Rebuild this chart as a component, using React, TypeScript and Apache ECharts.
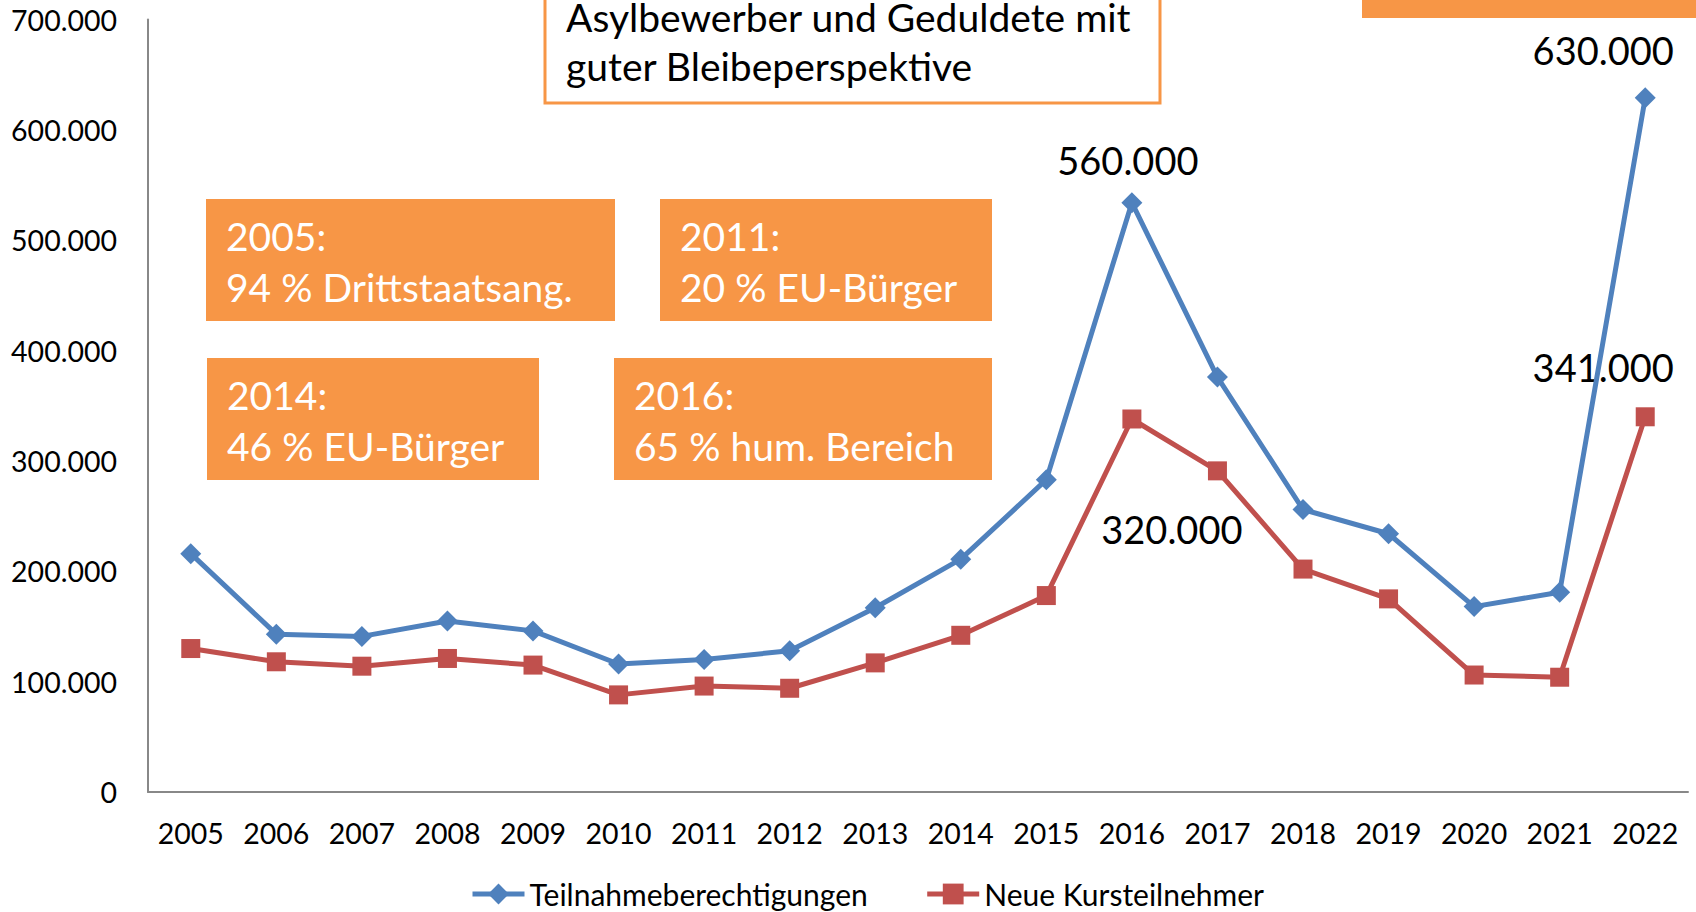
import React, { useEffect, useRef } from "react";
import * as echarts from "echarts";

const years = ["2005","2006","2007","2008","2009","2010","2011","2012","2013","2014","2015","2016","2017","2018","2019","2020","2021","2022"];
const teilnahme = [216000,143000,141000,155000,146000,116000,120000,128000,167000,211000,283000,534000,376000,256000,234000,168000,181000,629000];
const kurs = [130000,118000,114000,121000,115000,88000,96000,94000,117000,142000,178000,338000,291000,202000,175000,106000,104000,340000];
const seriesNames = ["Teilnahmeberechtigungen","Neue Kursteilnehmer"];
const blueLabels: Record<number,{text:string;off:[number,number]}> = { 11:{text:"560.000",off:[-4,-43]}, 17:{text:"630.000",off:[-42,-48]} };
const redLabels: Record<number,{text:string;off:[number,number]}> = { 11:{text:"320.000",off:[40,110]}, 17:{text:"341.000",off:[-42,-50]} };
const titleLines = ["Asylbewerber und Geduldete mit", "guter Bleibeperspektive"];
const boxes = [
  { l1: "2005:", l2: "94 % Drittstaatsang.", x: 206, y: 199, w: 409, h: 122 },
  { l1: "2011:", l2: "20 % EU-Bürger", x: 660, y: 199, w: 332, h: 122 },
  { l1: "2014:", l2: "46 % EU-Bürger", x: 207, y: 358, w: 332, h: 122 },
  { l1: "2016:", l2: "65 % hum. Bereich", x: 614, y: 358, w: 378, h: 122 },
];

const FONT = "Lato";
const BLUE = "#4F81BD";
const RED = "#C0504D";
const ORANGE = "#F79646";

function fmt(v: number) {
  if (v === 0) return "0";
  const s = String(Math.round(v));
  return s.replace(/\B(?=(\d{3})+(?!\d))/g, ".");
}

function withLabels(vals: number[], labels: Record<number,{text:string;off:[number,number]}>) {
  return vals.map((v, i) => {
    const l = labels[i];
    if (!l) return v;
    return {
      value: v,
      label: {
        show: true,
        position: "inside",
        offset: l.off,
        formatter: l.text,
        color: "#000",
        fontFamily: FONT,
        fontSize: 38,
      },
    };
  });
}

export default function App() {
  const ref = useRef<HTMLDivElement>(null);
  useEffect(() => {
    document.body.style.margin = "0";
    const chart = echarts.init(ref.current!, null, { renderer: "svg" });
    const graphics: any[] = [];
    graphics.push({
      type: "rect",
      shape: { x: 545, y: -10, width: 615, height: 113 },
      style: { fill: "#fff", stroke: ORANGE, lineWidth: 3 },
      z: 10,
    });
    graphics.push({
      type: "text", x: 566, y: 17, z: 11,
      style: { text: titleLines[0], fill: "#000", font: `39px ${FONT}`, textVerticalAlign: "middle" },
    });
    graphics.push({
      type: "text", x: 566, y: 66, z: 11,
      style: { text: titleLines[1], fill: "#000", font: `39px ${FONT}`, textVerticalAlign: "middle" },
    });
    graphics.push({
      type: "rect",
      shape: { x: 1362, y: -10, width: 340, height: 28 },
      style: { fill: ORANGE },
      z: 10,
    });
    boxes.forEach((b) => {
      graphics.push({ type: "rect", shape: { x: b.x, y: b.y, width: b.w, height: b.h }, style: { fill: ORANGE }, z: 10 });
      graphics.push({ type: "text", x: b.x + 20, y: b.y + 37, z: 11, style: { text: b.l1, fill: "#fff", font: `39px ${FONT}`, textVerticalAlign: "middle" } });
      graphics.push({ type: "text", x: b.x + 20, y: b.y + 88, z: 11, style: { text: b.l2, fill: "#fff", font: `39px ${FONT}`, textVerticalAlign: "middle" } });
    });

    chart.setOption({
      animation: false,
      backgroundColor: "#fff",
      textStyle: { fontFamily: FONT },
      grid: { left: 148, right: 8, top: 19.5, bottom: 120, containLabel: false },
      legend: {
        bottom: -2,
        left: 465,
        itemWidth: 52,
        itemHeight: 26,
        itemGap: 57,
        lineStyle: { width: 5 },
        textStyle: { fontFamily: FONT, fontSize: 30, color: "#000" },
        data: seriesNames,
      },
      xAxis: {
        type: "category",
        data: years,
        boundaryGap: true,
        axisLine: { lineStyle: { color: "#888", width: 2 } },
        axisTick: { show: false },
        axisLabel: { color: "#000", fontSize: 28.5, fontFamily: FONT, margin: 26, interval: 0 },
      },
      yAxis: {
        type: "value",
        min: 0,
        max: 700000,
        interval: 100000,
        axisLine: { show: true, lineStyle: { color: "#888", width: 2 } },
        axisTick: { show: false },
        splitLine: { show: false },
        axisLabel: { color: "#000", fontSize: 28.5, fontFamily: FONT, margin: 31, formatter: (v: number) => fmt(v) },
      },
      series: [
        {
          name: seriesNames[0],
          type: "line",
          data: withLabels(teilnahme, blueLabels),
          symbol: "diamond",
          symbolSize: 21,
          itemStyle: { color: BLUE },
          lineStyle: { color: BLUE, width: 5 },
          z: 3,
        },
        {
          name: seriesNames[1],
          type: "line",
          data: withLabels(kurs, redLabels),
          symbol: "rect",
          symbolSize: 19,
          itemStyle: { color: RED },
          lineStyle: { color: RED, width: 5 },
          z: 2,
        },
      ],
      graphic: { elements: graphics },
    });
    return () => chart.dispose();
  }, []);
  return <div ref={ref} style={{ position: "absolute", left: 0, top: 0, width: 1696, height: 912 }} />;
}
